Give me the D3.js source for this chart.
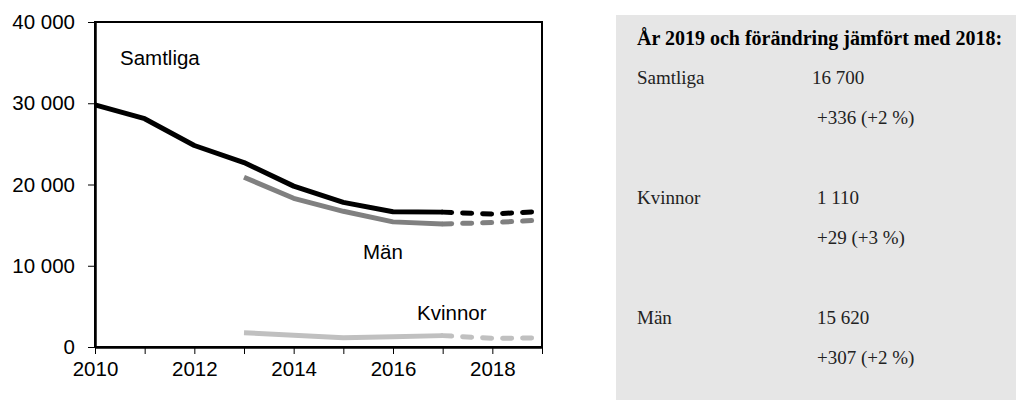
<!DOCTYPE html>
<html>
<head>
<meta charset="utf-8">
<script src="https://cdn.jsdelivr.net/npm/d3@7"></script>
<style>
  body { margin: 0; background: #fff; }
  svg text { font-family: "Liberation Sans", Arial, sans-serif; }
</style>
</head>
<body>
<svg id="chart" width="1016" height="400"></svg>
<script>
const years = [2010, 2011, 2012, 2013, 2014, 2015, 2016, 2017, 2018, 2019];
const samtliga = [29800, 28100, 24800, 22700, 19800, 17800, 16650, 16600, 16364, 16700];
const man = [null, null, null, 20900, 18300, 16700, 15400, 15150, 15313, 15620];
const kvinnor = [null, null, null, 1750, 1450, 1150, 1250, 1400, 1081, 1110];
const yTicks = [0, 10000, 20000, 30000, 40000];
const xLabels = [2010, 2012, 2014, 2016, 2018];
const boxTitle = "År 2019 och förändring jämfört med 2018:";
const boxNames = ["Samtliga", "Kvinnor", "Män"];
const boxValues = ["16 700", "1 110", "15 620"];
const boxChanges = ["+336 (+2 %)", "+29 (+3 %)", "+307 (+2 %)"];

const svg = d3.select("#chart");
const L = 95, R = 542, T = 22, B = 347;

const x = d3.scaleLinear().domain([2010, 2019]).range([L, R]);
const y = d3.scaleLinear().domain([0, 40000]).range([B, T]);
const fmt = v => d3.format(",")(v).replace(/,/g, " ");

// frame
svg.append("rect").attr("x", L).attr("y", T).attr("width", R - L).attr("height", B - T)
  .attr("fill", "none").attr("stroke", "#000").attr("stroke-width", 2);

let yAxis = d3.axisLeft(y).tickValues(yTicks).tickSize(7).tickSizeOuter(0).tickFormat(fmt);
let gy = svg.append("g").attr("transform", "translate(" + L + ",0)").call(yAxis);
gy.select(".domain").attr("stroke-width", 2.5);
gy.selectAll("text").attr("font-size", 20.5).attr("fill", "#000").attr("x", -20)
  .style("font-family", "Liberation Sans, Arial, sans-serif");

let xAxis = d3.axisBottom(x).tickValues(years).tickSize(7).tickSizeOuter(0)
  .tickFormat(d => xLabels.includes(d) ? d : "");
let gx = svg.append("g").attr("transform", "translate(0," + B + ")").call(xAxis);
gx.select(".domain").attr("stroke-width", 2.5);
gx.selectAll("text").attr("font-size", 20.5).attr("fill", "#000").attr("y", 14)
  .style("font-family", "Liberation Sans, Arial, sans-serif");

const series = [
  {vals: samtliga, color: "#000000"},
  {vals: man, color: "#808080"},
  {vals: kvinnor, color: "#c0c0c0"}
];

series.forEach(s => {
  const pts = years.map((yr, i) => ({yr, v: s.vals[i]})).filter(d => d.v !== null);
  const solid = pts.filter(d => d.yr <= 2017);
  const dashed = pts.filter(d => d.yr >= 2017);
  const line = d3.line().x(d => x(d.yr)).y(d => y(d.v));
  svg.append("path").attr("d", line(solid)).attr("fill", "none")
    .attr("stroke", s.color).attr("stroke-width", 5).attr("stroke-linejoin", "round");
  svg.append("path").attr("d", line(dashed)).attr("fill", "none")
    .attr("stroke", s.color).attr("stroke-width", 5).attr("stroke-linecap", "round")
    .attr("stroke-dasharray", "9,11");
});

svg.append("text").attr("x", 120).attr("y", 65).attr("font-size", 20.5).text("Samtliga");
svg.append("text").attr("x", 363).attr("y", 259).attr("font-size", 20.5).text("Män");
svg.append("text").attr("x", 417).attr("y", 320).attr("font-size", 20.5).text("Kvinnor");

// side box
svg.append("rect").attr("x", 616).attr("y", 15).attr("width", 400).attr("height", 385).attr("fill", "#e6e6e6");
const serif = "Liberation Serif, 'DejaVu Serif', serif";
svg.append("text").attr("x", 637).attr("y", 45).attr("font-size", 20).attr("font-weight", "bold")
  .style("font-family", serif).attr("fill", "#000").text(boxTitle);
boxNames.forEach((n, i) => {
  const by = 84 + i * 120;
  svg.append("text").attr("x", 637).attr("y", by).attr("font-size", 19)
    .style("font-family", serif).attr("fill", "#222").text(n);
  svg.append("text").attr("x", i === 0 ? 812 : 817).attr("y", by).attr("font-size", 19)
    .style("font-family", serif).attr("fill", "#222").text(boxValues[i]);
  svg.append("text").attr("x", 817).attr("y", by + 40).attr("font-size", 19)
    .style("font-family", serif).attr("fill", "#222").text(boxChanges[i]);
});
</script>
</body>
</html>
